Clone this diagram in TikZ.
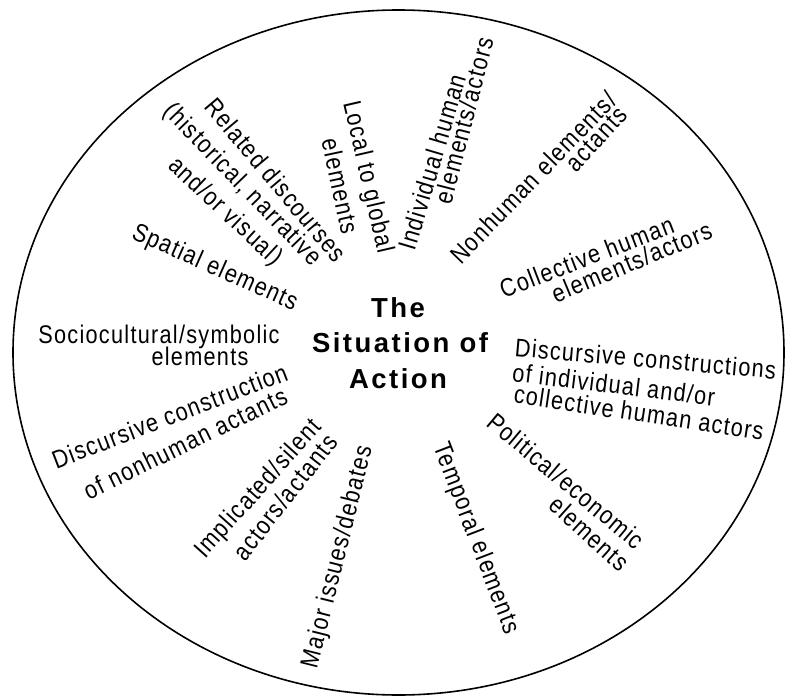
\documentclass[tikz,border=0pt]{standalone}
\usepackage{fontspec}
\setmainfont{Liberation Sans}[FakeStretch=0.85, LetterSpace=5]
\newfontfamily\titlefont{Liberation Sans}[LetterSpace=9]
\begin{document}
\begin{tikzpicture}[x=1bp, y=-1bp,
  lbl/.style={font=\fontsize{25.5bp}{22bp}\selectfont, inner sep=0pt,
    text height=0.72em, text depth=0.2em, anchor=center},
  ttl/.style={font=\titlefont\bfseries\fontsize{27.5bp}{35bp}\selectfont,
    inner sep=0pt, anchor=base},
  rim/.style={line width=1.6bp}]
\useasboundingbox (0,0) rectangle (787,698);

% outer boundary of the situation
\draw[rim] (398.5,352.5) ellipse [x radius=385.5, y radius=342.5];

% central title
\node[ttl] (title1) at (398,317) {The};
\node[ttl] (title2) at (400,352) {Situation of};
\node[ttl] (title3) at (398,388) {Action};

% surrounding elements, one node per printed line
\node[lbl, rotate=-77] (locA) at (363,178) {Local to global};
\node[lbl, rotate=-78] (locB) at (334,187) {elements};

\node[lbl, rotate=-50] (relA) at (271,184) {Related discourses};
\node[lbl, rotate=-46] (relB) at (239,188) {(historical, narrative};
\node[lbl, rotate=-43] (relC) at (222,215) {and/or visual)};

\node[lbl, rotate=-24] (spa) at (213,272) {Spatial elements};

\node[lbl] (socA) at (159,340.5) {Sociocultural/symbolic};
\node[lbl] (socB) at (200,362.5) {elements};

\node[lbl, rotate=21] (dnhA) at (172,422) {Discursive construction};
\node[lbl, rotate=26] (dnhB) at (188,449) {of nonhuman actants};

\node[lbl, rotate=48] (impA) at (262,492) {Implicated/silent};
\node[lbl, rotate=52] (impB) at (290,501) {actors/actants};

\node[lbl, rotate=76] (maj) at (342,558) {Major issues/debates};

\node[lbl, rotate=-69] (tem) at (472,540) {Temporal elements};

\node[lbl, rotate=-40] (polA) at (562,486) {Political/economic};
\node[lbl, rotate=-42] (polB) at (585,538) {elements};

\node[lbl, rotate=-5] (dhaA) at (645,365) {Discursive constructions};
\node[lbl, rotate=-7] (dhaB) at (613,391) {of individual and/or};
\node[lbl, rotate=-8.5] (dhaC) at (638,419) {collective human actors};

\node[lbl, rotate=21] (colA) at (589,263) {Collective human};
\node[lbl, rotate=22.5] (colB) at (634,268) {elements/actors};

\node[lbl, rotate=46] (nonA) at (538,182) {Nonhuman elements/};
\node[lbl, rotate=47] (nonB) at (601,143) {actants};

\node[lbl, rotate=73.5] (indA) at (438,164) {Individual human};
\node[lbl, rotate=75.5] (indB) at (470,122) {elements/actors};
\end{tikzpicture}
\end{document}
